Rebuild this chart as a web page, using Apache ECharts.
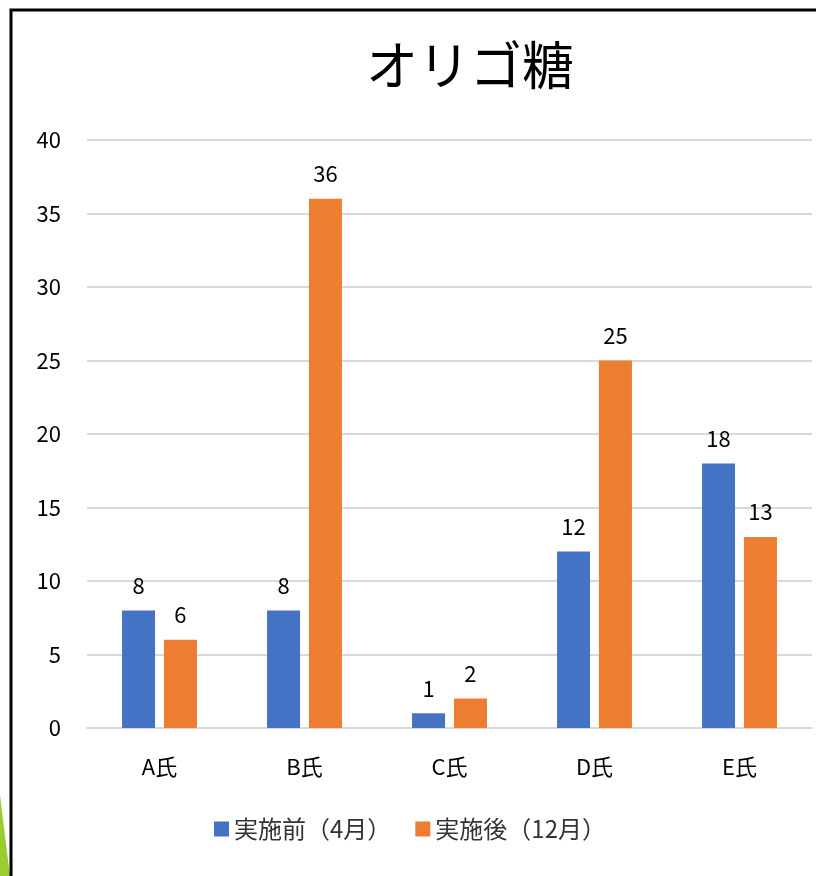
<!DOCTYPE html>
<html><head><meta charset="utf-8">
<script src="https://cdn.jsdelivr.net/npm/echarts@6/dist/echarts.min.js"></script>
<style>html,body{margin:0;padding:0;background:#fff}#c{width:816px;height:876px}</style>
</head><body><div id="c"></div>
<script>
const categories = ['A氏','B氏','C氏','D氏','E氏'];
const beforeVals = [8, 8, 1, 12, 18];
const afterVals = [6, 36, 2, 25, 13];
const seriesNames = ['実施前（4月）','実施後（12月）'];
const titleText = 'オリゴ糖';
const FONT = '"Noto Sans CJK JP", "Noto Sans", sans-serif';

const chart = echarts.init(document.getElementById('c'), null, {renderer:'canvas'});
const lbl = {show:true, position:'top', distance:14, color:'#000', fontSize:22, fontFamily:FONT};
chart.setOption({
  animation:false,
  backgroundColor:'#fff',
  textStyle:{fontFamily:FONT},
  title:{text:titleText, left:465, top:34, textAlign:'center',
    textStyle:{fontSize:52, fontWeight:'normal', color:'#000', fontFamily:FONT}},
  legend:{top:817, left:214, itemWidth:15, itemHeight:15, itemGap:24,
    icon:'rect', textStyle:{fontSize:24, color:'#333', fontFamily:FONT},
    padding:[0,0,0,0]},
  grid:{left:87, right:4, top:140, bottom:148, containLabel:false},
  xAxis:{type:'category', data:categories,
    axisLine:{lineStyle:{color:'#d9d9d9', width:2}}, axisTick:{show:false},
    axisLabel:{color:'#000', fontSize:22, margin:28, fontFamily:FONT}},
  yAxis:{type:'value', min:0, max:40, interval:5,
    axisLine:{show:false}, axisTick:{show:false},
    splitLine:{lineStyle:{color:'#d9d9d9', width:2}},
    axisLabel:{color:'#000', fontSize:22, margin:26, fontFamily:FONT}},
  series:[
    {name:seriesNames[0], type:'bar', data:beforeVals, barWidth:33, barGap:'27%',
      itemStyle:{color:'#4472c4'}, label:lbl},
    {name:seriesNames[1], type:'bar', data:afterVals, barWidth:33, barGap:'27%',
      itemStyle:{color:'#ed7d31'}, label:lbl}
  ],
  graphic:[
    {type:'polygon', shape:{points:[[0,795],[10,876],[0,876]]}, style:{fill:'#9acd32'}, z:0},
    {type:'rect', shape:{x:11, y:10, width:900, height:900}, style:{fill:'none', stroke:'#000', lineWidth:3}, z:10}
  ]
});
</script></body></html>
